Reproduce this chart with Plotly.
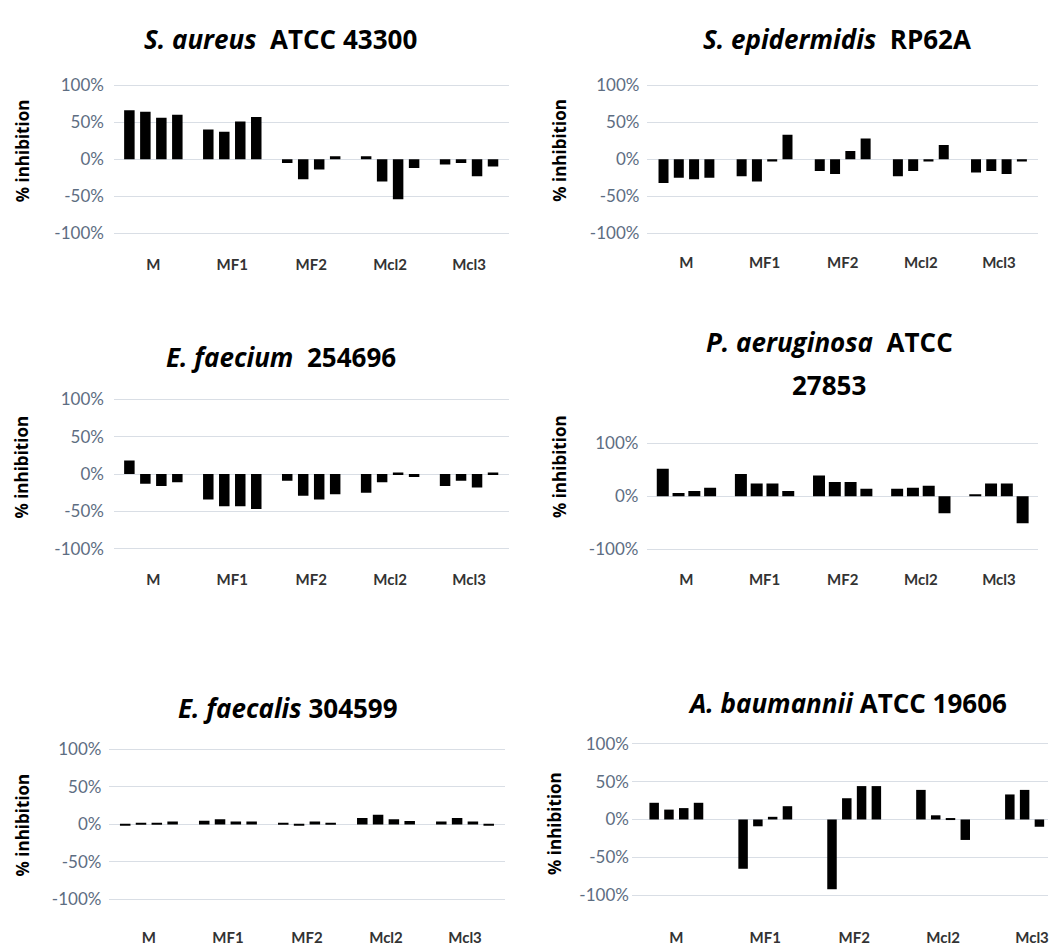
import plotly.graph_objects as go

W, H = 1049, 950

categories = ["M", "MF1", "MF2", "Mcl2", "Mcl3"]

# values: one row per category, 4 bars per category (% inhibition)
s_aureus = [[66, 64, 56, 60], [40, 37, 51, 57], [-5, -27, -14, 4], [4, -30, -54, -12], [-7, -5, -23, -10]]
s_epidermidis = [[-32, -25, -27, -25], [-23, -30, -3, 33], [-16, -20, 11, 28], [-23, -16, -3, 19], [-18, -16, -20, -3]]
e_faecium = [[18, -13, -16, -11], [-34, -43, -43, -47], [-9, -29, -34, -27], [-25, -11, 2, -4], [-16, -9, -18, 2]]
p_aeruginosa = [[52, 6, 10, 16], [42, 24, 24, 10], [39, 27, 27, 14], [14, 16, 20, -32], [4, 24, 24, -51]]
e_faecalis = [[-1.5, 2, 2, 4], [5, 7, 4, 4], [2, -1.5, 4, 2], [8.5, 13, 7, 4.5], [4, 8.5, 4, -1.5]]
a_baumannii = [[22, 13, 15, 22], [-65, -9, 3.5, 17.5], [-92, 28, 44, 44], [39, 5.5, 1.3, -27], [33, 39, -9.6, None]]

titles = [
    "<b><i>S. aureus</i>  ATCC 43300</b>",
    "<b><i>S. epidermidis</i>  RP62A</b>",
    "<b><i>E. faecium</i>  254696</b>",
    "<b><i>P. aeruginosa</i>  ATCC</b>|<b>27853</b>",
    "<b><i>E. faecalis</i> 304599</b>",
    "<b><i>A. baumannii</i> ATCC 19606</b>",
]
ytick_vals_5 = [-100, -50, 0, 50, 100]
ytick_vals_3 = [-100, 0, 100]
ylabel = "% inhibition"

datasets = [s_aureus, s_epidermidis, e_faecium, p_aeruginosa, e_faecalis, a_baumannii]

# layout specs per panel (pixels)
panels = [
    dict(x=(114, 509), y=(72.5, 237.5), cat=79, slot=16, bw=10.5, xr=None, ticks=ytick_vals_5,
         title=(281, 33), ylab=(22, 146), xstand=13, ystand=9),
    dict(x=(648, 1039), y=(72.5, 237.5), cat=78.2, slot=15.3, bw=10, xr=None, ticks=ytick_vals_5,
         title=(838, 33), ylab=(560, 146), xstand=11, ystand=7),
    dict(x=(114, 509), y=(390.4, 556.6), cat=79, slot=16, bw=10.5, xr=None, ticks=ytick_vals_5,
         title=(281, 355), ylab=(22, 466), xstand=13, ystand=9),
    dict(x=(648, 1039), y=(437.1, 554.9), cat=78.2, slot=15.8, bw=12, xr=None, ticks=ytick_vals_3,
         title=(830, 340), ylab=(560, 466), xstand=15, ystand=8),
    dict(x=(109.5, 505), y=(744.4, 911.6), cat=79, slot=15.8, bw=10.5, xr=None, ticks=ytick_vals_5,
         title=(288, 710), ylab=(22, 828), xstand=20, ystand=7),
    dict(x=(632.5, 1049), y=(738.6, 907.4), cat=89, slot=14.8, bw=9.5, xr=(-0.5, -0.5 + (1049 - 632.5) / 89),
         ticks=ytick_vals_5, title=(848, 705), ylab=(555, 827), xstand=24, ystand=2),
]

fig = go.Figure()
annotations = []
FONT = "Lato"
TFONT = "Open Sans"

for p, (spec, data) in enumerate(zip(panels, datasets)):
    idx = p + 1
    xa = "x" if idx == 1 else f"x{idx}"
    ya = "y" if idx == 1 else f"y{idx}"
    slot = spec["slot"] / spec["cat"]
    bw = spec["bw"] / spec["cat"]
    for i in range(4):
        vals = [row[i] for row in data]
        fig.add_trace(go.Bar(
            x=categories, y=vals, xaxis=xa, yaxis=ya,
            offset=(i - 1.5) * slot - bw / 2, width=bw,
            marker=dict(color="black", line=dict(width=0)),
            showlegend=False, hoverinfo="x+y",
        ))
    x0, x1 = spec["x"]
    yt, yb = spec["y"]
    xkey = "xaxis" if idx == 1 else f"xaxis{idx}"
    ykey = "yaxis" if idx == 1 else f"yaxis{idx}"
    fig.layout[xkey] = dict(
        domain=[x0 / W, min(x1 / W, 1.0)], anchor=ya, type="category",
        range=list(spec["xr"]) if spec["xr"] else [-0.5, 4.5],
        showgrid=False, showline=False, zeroline=False, ticks="",
        ticklabelstandoff=spec["xstand"],
        tickfont=dict(family=FONT, size=15, color="#333333", weight="bold"),
    )
    fig.layout[ykey] = dict(
        domain=[1 - yb / H, 1 - yt / H], anchor=xa, range=[-110, 110],
        tickvals=spec["ticks"], ticktext=[f"{v}%" for v in spec["ticks"]],
        showgrid=True, gridcolor="#d9dee5", gridwidth=1, zeroline=False,
        showline=False, ticks="", ticklabelstandoff=spec["ystand"],
        tickfont=dict(family=FONT, size=17, color="#5d6d82"),
    )
    tx, ty = spec["title"]
    lines = titles[p].split("|")
    for k, line in enumerate(lines):
        annotations.append(dict(
            text=line, x=tx / W, y=1 - (ty + 43 * k) / H, xref="paper", yref="paper",
            xanchor="center", yanchor="middle", showarrow=False,
            font=dict(family=TFONT, size=26, color="black"),
        ))
    lx, ly = spec["ylab"]
    annotations.append(dict(
        text=f"<b>{ylabel}</b>", x=lx / W, y=1 - ly / H, xref="paper", yref="paper",
        xanchor="center", yanchor="middle", showarrow=False, textangle=-90,
        font=dict(family=TFONT, size=17, color="black"),
    ))

fig.update_layout(
    width=W, height=H, margin=dict(l=0, r=0, t=0, b=0),
    paper_bgcolor="white", plot_bgcolor="white",
    barmode="group", annotations=annotations,
)

fig.write_html("out.html")
